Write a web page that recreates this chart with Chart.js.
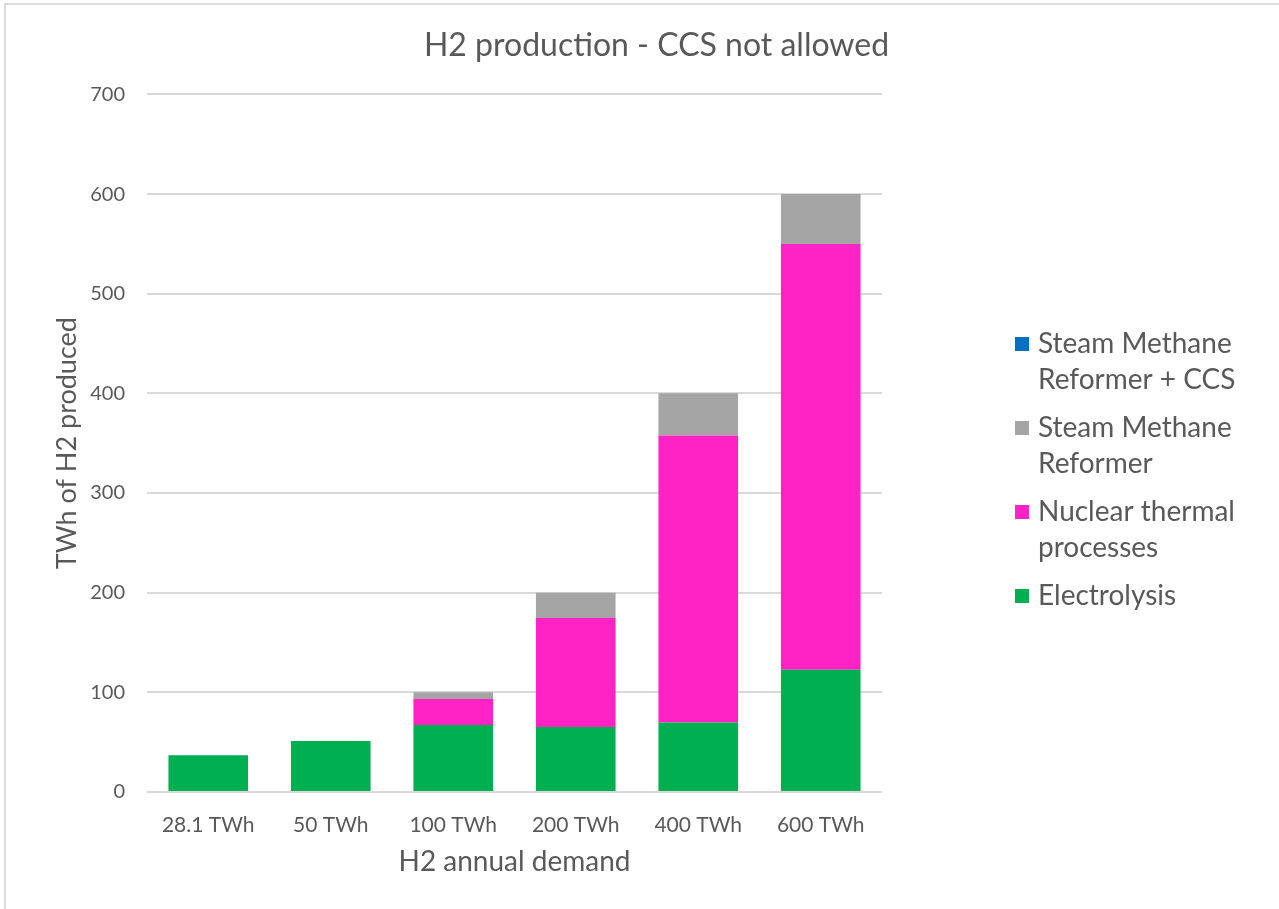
<!DOCTYPE html>
<html>
<head>
<meta charset="utf-8">
<title>H2 production - CCS not allowed</title>
<script src="https://cdn.jsdelivr.net/npm/chart.js@4.4.1/dist/chart.umd.min.js"></script>
<style>
  html, body { margin: 0; padding: 0; background: #ffffff; }
  #wrap { width: 1279px; height: 909px; position: relative; }
  canvas { display: block; }
</style>
</head>
<body>
<div id="wrap"><canvas id="chart" width="1279" height="909"></canvas></div>
<script>
// Annual H2 demand scenarios (x categories)
const demandLabels = ['28.1 TWh', '50 TWh', '100 TWh', '200 TWh', '400 TWh', '600 TWh'];

// TWh of H2 produced by each route, per scenario
const electrolysis    = [37, 51.2, 67.3, 65.2, 69.7, 122.6];
const nuclearThermal  = [0, 0, 26, 109.3, 288, 427.4];
const steamMethane    = [0, 0, 6.7, 25.5, 42.3, 50];
const steamMethaneCCS = [0, 0, 0, 0, 0, 0];

// Value axis range
const yMin = 0;
const yMax = 700;
const yStep = 100;

const TEXT = '#595959';
const GRID = '#D9D9D9';
const FONT = 'Lato, Carlito, Calibri, sans-serif';

// Outer chart frame (thin grey border along top and left)
const framePlugin = {
  id: 'frame',
  beforeDraw(chart) {
    const ctx = chart.ctx;
    ctx.save();
    ctx.fillStyle = '#DCDCDC';
    ctx.fillRect(4, 3, 2, chart.height - 3);
    ctx.fillRect(4, 3, chart.width - 4, 2);
    ctx.restore();
  }
};

// Legend on the right, wrapped over two lines, listed top-of-stack first
const sideLegend = {
  id: 'sideLegend',
  afterDraw(chart, args, opts) {
    const ctx = chart.ctx;
    ctx.save();
    ctx.font = opts.fontSize + 'px ' + FONT;
    ctx.textBaseline = 'middle';
    ctx.textAlign = 'left';
    const wrap = (text) => {
      const words = text.split(' ');
      const lines = [];
      let cur = '';
      words.forEach(w => {
        const test = cur ? cur + ' ' + w : w;
        if (cur && ctx.measureText(test).width > opts.maxWidth) {
          lines.push(cur);
          cur = w;
        } else {
          cur = test;
        }
      });
      if (cur) lines.push(cur);
      return lines;
    };
    let y = opts.top;
    const sets = chart.data.datasets.slice().reverse();
    sets.forEach(ds => {
      const lines = wrap(ds.label);
      ctx.fillStyle = ds.backgroundColor;
      ctx.fillRect(opts.x, Math.round(y - opts.box / 2), opts.box, opts.box);
      ctx.fillStyle = TEXT;
      lines.forEach((ln, i) => {
        ctx.fillText(ln, opts.textX, y + i * opts.lineHeight);
      });
      y += lines.length * opts.lineHeight + opts.gap;
    });
    ctx.restore();
  }
};

new Chart(document.getElementById('chart'), {
  type: 'bar',
  data: {
    labels: demandLabels,
    datasets: [
      { label: 'Electrolysis', data: electrolysis, backgroundColor: '#00B050' },
      { label: 'Nuclear thermal processes', data: nuclearThermal, backgroundColor: '#FF22C4' },
      { label: 'Steam Methane Reformer', data: steamMethane, backgroundColor: '#A5A5A5' },
      { label: 'Steam Methane Reformer + CCS', data: steamMethaneCCS, backgroundColor: '#0070C0' }
    ]
  },
  plugins: [framePlugin, sideLegend],
  options: {
    responsive: false,
    animation: false,
    devicePixelRatio: 1,
    layout: { padding: { left: 34, top: 0, right: 0, bottom: 0 } },
    datasets: {
      bar: { barPercentage: 0.65, categoryPercentage: 1.0, borderWidth: 0 }
    },
    plugins: {
      legend: { display: false },
      tooltip: { enabled: false },
      title: {
        display: true,
        text: 'H2 production - CCS not allowed',
        color: TEXT,
        font: { family: FONT, size: 32, weight: 'normal', lineHeight: 1.2 },
        padding: { top: 26, bottom: 30 }
      },
      sideLegend: {
        x: 1015, textX: 1038, box: 14,
        top: 344, lineHeight: 36, gap: 12,
        fontSize: 28, maxWidth: 235
      }
    },
    scales: {
      x: {
        stacked: true,
        grid: { display: false, drawTicks: false },
        border: { display: false },
        ticks: { color: TEXT, font: { family: FONT, size: 21 }, padding: 21 },
        title: {
          display: true, text: 'H2 annual demand', color: TEXT,
          font: { family: FONT, size: 28, lineHeight: 1.2 },
          padding: { top: 0, bottom: 30 }
        },
        afterFit(scale) { scale.height = 117; }
      },
      y: {
        stacked: true,
        min: yMin, max: yMax,
        grid: { color: GRID, lineWidth: 2, drawTicks: false },
        border: { display: false },
        ticks: { stepSize: yStep, color: TEXT, font: { family: FONT, size: 20 }, padding: 22 },
        title: {
          display: true, text: 'TWh of H2 produced', color: TEXT,
          font: { family: FONT, size: 27, lineHeight: 1.2 },
          padding: { top: 17, bottom: 0 }
        },
        afterFit(scale) { scale.width = 113; }
      },
      legendSpace: {
        position: 'right',
        display: true,
        grid: { display: false, drawTicks: false },
        border: { display: false },
        ticks: { display: false },
        afterFit(scale) { scale.width = 397; }
      }
    }
  }
});
</script>
</body>
</html>
